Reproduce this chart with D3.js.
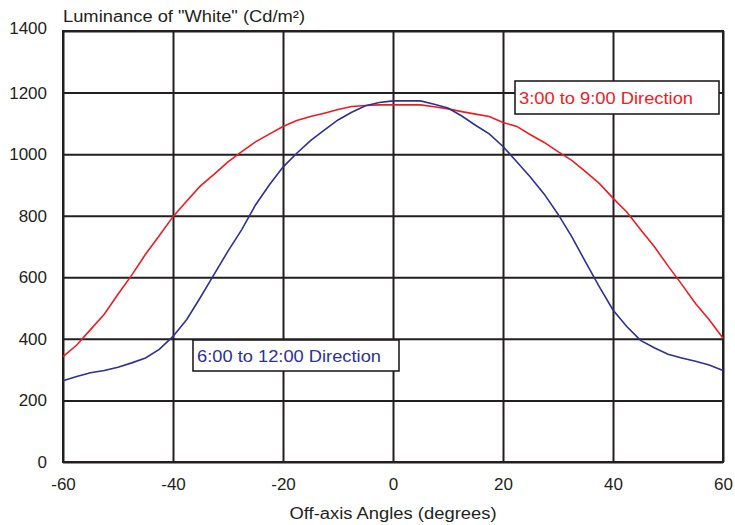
<!DOCTYPE html>
<html><head><meta charset="utf-8">
<script src="https://cdn.jsdelivr.net/npm/d3@7"></script>
<style>body{margin:0;background:#fff}svg{display:block}</style>
</head><body>
<svg id="c" width="735" height="525"></svg>
<script>
const angles = [-60,-57.5,-55,-52.5,-50,-47.5,-45,-42.5,-40,-37.5,-35,-32.5,-30,-27.5,-25,-22.5,-20,-17.5,-15,-12.5,-10,-7.5,-5,-2.5,0,2.5,5,7.5,10,12.5,15,17.5,20,22.5,25,27.5,30,32.5,35,37.5,40,42.5,45,47.5,50,52.5,55,57.5,60];
const horiz = [342,380,430,480,545,607,675,735,797,848,897,935,975,1008,1040,1065,1090,1109,1122,1133,1145,1155,1158,1160,1160,1160,1160,1154,1147,1138,1130,1122,1103,1090,1063,1038,1008,980,943,905,857,812,755,700,637,577,515,462,402];
const vert = [264,278,290,297,308,322,338,366,408,463,535,610,685,755,835,900,958,1003,1044,1078,1111,1136,1157,1168,1173,1173,1173,1162,1150,1124,1094,1066,1025,975,925,870,805,732,650,570,494,440,395,371,350,338,327,315,297];
const xTicks = [-60,-40,-20,0,20,40,60];
const yTicks = [0,200,400,600,800,1000,1200,1400];
const seriesNames = ["3:00 to 9:00 Direction","6:00 to 12:00 Direction"];
const yTitle = "Luminance of \"White\" (Cd/m\u00B2)";
const xTitle = "Off-axis Angles (degrees)";

const ink = "#231f20", red = "#ed1c24", blue = "#2e3192";
const font = "'Liberation Sans', Arial, sans-serif";
const L = 63, R = 723, T = 31, B = 462;
const svg = d3.select("#c");
const x = d3.scaleLinear().domain([-60,60]).range([L,R]);
const y = d3.scaleLinear().domain([0,1400]).range([B,T]);

const gx = svg.append("g").attr("transform",`translate(0,${B})`)
  .call(d3.axisBottom(x).tickValues(xTicks).tickSizeInner(-(B-T)).tickSizeOuter(0).tickPadding(16).tickFormat(d3.format("d")));
const gy = svg.append("g").attr("transform",`translate(${L},0)`)
  .call(d3.axisLeft(y).tickValues(yTicks).tickSizeInner(-(R-L)).tickSizeOuter(0).tickPadding(16).tickFormat(d3.format("d")));
[gx,gy].forEach(g=>{
  g.select(".domain").remove();
  g.selectAll("line").attr("stroke",ink).attr("stroke-width",2);
  g.selectAll("text").attr("fill",ink).style("font-family",font).style("font-size","17px");
});
gy.selectAll(".tick").filter(d=>d===1400).select("text").attr("dy","0.15em");
gx.selectAll(".tick text").text(d=>d<0? "-"+Math.abs(d) : d);
svg.append("rect").attr("x",L).attr("y",T).attr("width",R-L).attr("height",B-T)
  .attr("fill","none").attr("stroke",ink).attr("stroke-width",2);

const line = d3.line().x((d,i)=>x(angles[i])).y(d=>y(d));
svg.append("path").datum(horiz).attr("d",line).attr("fill","none").attr("stroke",red).attr("stroke-width",1.6);
svg.append("path").datum(vert).attr("d",line).attr("fill","none").attr("stroke",blue).attr("stroke-width",1.6);

// labels
function label(bx,by,bw,bh,tx,ty,tw,txt,col){
  svg.append("rect").attr("x",bx).attr("y",by).attr("width",bw).attr("height",bh)
    .attr("fill","#fff").attr("stroke",ink).attr("stroke-width",1.6);
  svg.append("text").attr("x",tx).attr("y",ty).attr("fill",col)
    .attr("textLength",tw).attr("lengthAdjust","spacingAndGlyphs")
    .style("font-family",font).style("font-size","16px").text(txt);
}
label(515,81,204,33,519,104,174,seriesNames[0],red);
label(193,340,206,31,197,362,184,seriesNames[1],blue);

svg.append("text").attr("x",63).attr("y",22).attr("fill",ink)
  .attr("textLength",242).attr("lengthAdjust","spacingAndGlyphs")
  .style("font-family",font).style("font-size","16px").text(yTitle);
svg.append("text").attr("x",393).attr("y",519).attr("text-anchor","middle").attr("fill",ink)
  .attr("textLength",207).attr("lengthAdjust","spacingAndGlyphs")
  .style("font-family",font).style("font-size","16px").text(xTitle);
</script>
</body></html>
